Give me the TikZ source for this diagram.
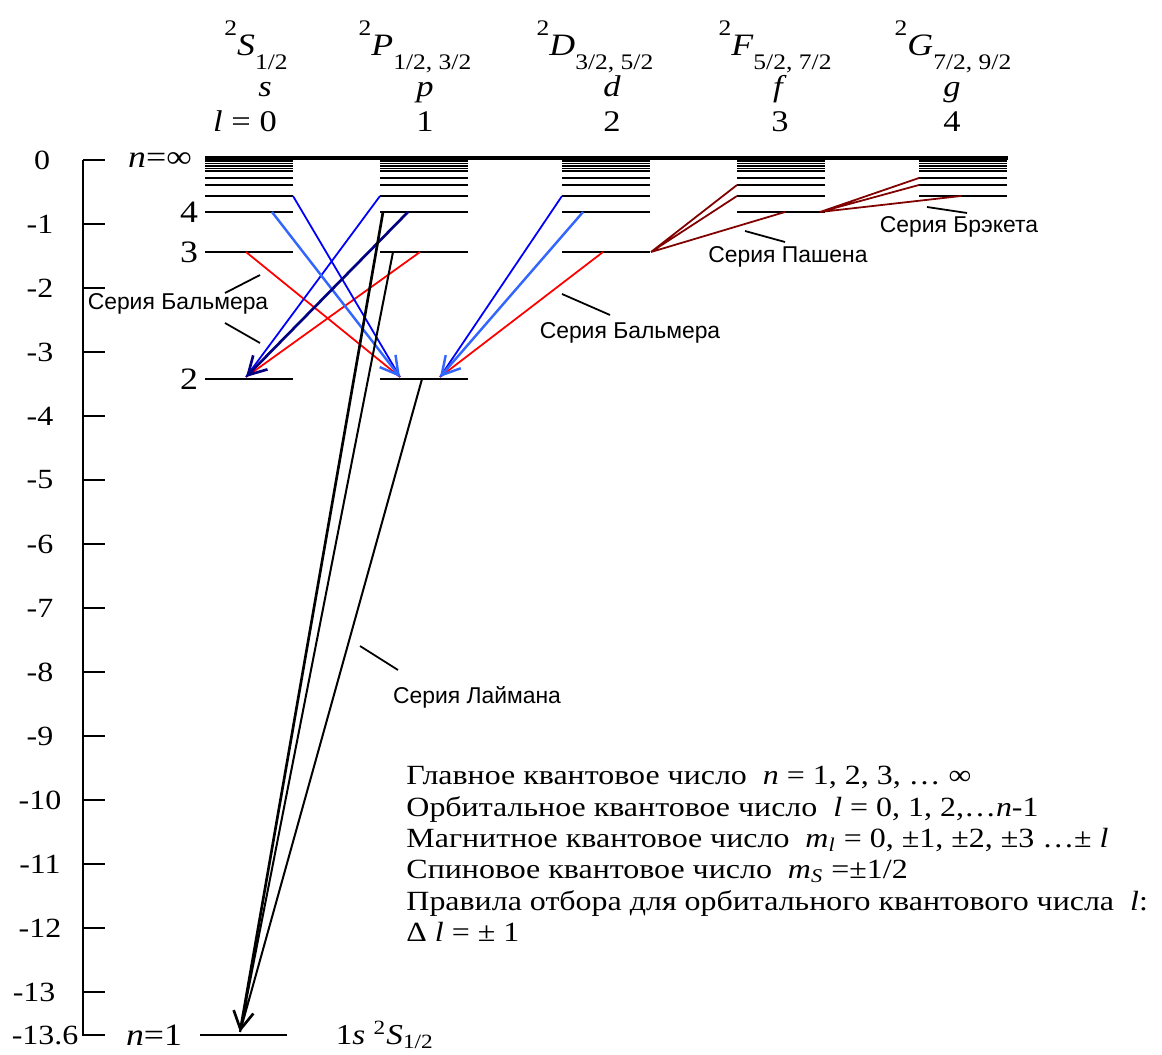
\documentclass[tikz,border=0pt]{standalone}
\usepackage{fontspec}
\setmainfont{Liberation Serif}[FakeStretch=1.15]
\newfontfamily\sanslbl{Liberation Sans}
\usetikzlibrary{arrows.meta}
\definecolor{lightblu}{RGB}{51,102,255}
\definecolor{navyblu}{RGB}{0,0,128}
\definecolor{darkred}{RGB}{128,0,0}
% term symbol: ^2 L_J with the indices set well off the line
\newcommand{\termsym}[2]{\raisebox{0.65em}{\fontsize{10}{10}\selectfont 2}\textit{#1}%
    \raisebox{-0.42em}{\fontsize{10}{10}\selectfont #2}}

\begin{document}
\begin{tikzpicture}[x=0.45pt, y=-0.45pt,
    level/.style={line width=0.8pt},
    axis/.style={line width=0.9pt},
    pointer/.style={line width=0.8pt},
    num/.style={font=\fontsize{12.5}{14}\selectfont},
    lev/.style={font=\fontsize{14}{16}\selectfont},
    term/.style={font=\fontsize{14}{17}\selectfont, anchor=base},
    head/.style={font=\fontsize{13.5}{16}\selectfont, anchor=base},
    lbl/.style={font=\sanslbl\fontsize{10.3}{12}\selectfont},
    barb/.style={-{Straight Barb[length=8pt, width=9pt]}},
    balred/.style={red, line width=0.8pt},
    balblue/.style={blue, line width=0.8pt},
    ballight/.style={lightblu, line width=1.1pt, barb},
    balnavy/.style={navyblu, line width=1.2pt, barb},
    lyman/.style={black, line width=0.9pt},
    infra/.style={darkred, line width=0.8pt}]

    \useasboundingbox (0,0) rectangle (1162,1055);

    \def\yI{1035}
    \def\yII{379}
    \def\yIII{252}
    \def\yIV{212}
    \def\yV{196}
    \def\yVI{185}
    \def\yVII{178}

    % --- Energy axis ---
    \draw[axis] (83,160) -- (83,\yI) -- ++(22,0);
    \foreach \e in {0,...,13}
        \draw[axis] (83,{160+64*\e}) -- ++(22,0);
    \node[num] (e0) at (42,160) {0};
    \foreach \e in {1,...,12}
        \node[num] (e\e) at (40,{160+64*\e}) {-\e};
    \node[num, anchor=west] (e13) at (5,992) {-13};
    \node[num, anchor=west] (e136) at (4,\yI) {-13.6};

    % --- Levels (n = 2 ... 12 in each column) ---
    \draw[line width=1.5pt] (205,158) -- (1008,158);
    \foreach \xl/\nmin in {205/2, 380/2, 562/3, 737/4, 919/5}{
        \foreach \n/\yy in {2/\yII, 3/\yIII, 4/\yIV, 5/\yV, 6/\yVI, 7/\yVII,
                            8/171, 9/168.5, 10/166, 11/163.5, 12/161}{
            \ifnum\n<\nmin\relax\else
                \draw[level] (\xl,\yy) -- ++(88,0);
            \fi
        }
    }
    % ground state
    \draw[level] (200,\yI) -- (287,\yI);

    % --- Level labels ---
    \node[lev] (ninf) at (160,160) {\textit{n}=∞};
    \node[lev] (lab4) at (189,\yIV) {4};
    \node[lev] (lab3) at (189,\yIII) {3};
    \node[lev] (lab2) at (189,\yII) {2};
    \node[lev] (lab1) at (154,\yI) {\textit{n}=1};
    \node[num, font=\fontsize{13}{15}\selectfont, anchor=west] (gs) at (328,\yI)
        {1\textit{s} \textsuperscript{2}\textit{S}\textsubscript{1/2}};

    % --- Column headings ---
    \node[term] (tS) at (256,56) {\termsym{S}{1/2}};
    \node[term] (tP) at (415,56) {\termsym{P}{1/2, 3/2}};
    \node[term] (tD) at (595,56) {\termsym{D}{3/2, 5/2}};
    \node[term] (tF) at (775,56) {\termsym{F}{5/2, 7/2}};
    \node[term] (tG) at (953,56) {\termsym{G}{7/2, 9/2}};

    \node[head] (os) at (265,97) {\textit{s}};
    \node[head] (op) at (425,97) {\textit{p}};
    \node[head] (od) at (612,97) {\textit{d}};
    \node[head] (of) at (780,97) {\textit{f}};
    \node[head] (og) at (952,97) {\textit{g}};

    \node[head] (l0) at (245,132) {\textit{l} = 0};
    \node[head] (l1) at (425,132) {1};
    \node[head] (l2) at (612,132) {2};
    \node[head] (l3) at (780,132) {3};
    \node[head] (l4) at (952,132) {4};

    % --- End points of the transitions ---
    \coordinate (s1) at (240,1032);
    \coordinate (s2) at (246,377);
    \coordinate (s3) at (246,\yIII);
    \coordinate (s4) at (272,\yIV);
    \coordinate (s5) at (293,\yV);
    \coordinate (p2a) at (400,377);
    \coordinate (p2b) at (440,377);
    \coordinate (p2c) at (422,\yII);
    \coordinate (p3a) at (393,\yIII);
    \coordinate (p3b) at (420,\yIII);
    \coordinate (p4a) at (383,\yIV);
    \coordinate (p4b) at (408,\yIV);
    \coordinate (p5) at (380,\yV);
    \coordinate (d3a) at (603,\yIII);
    \coordinate (d3b) at (651,\yIII);
    \coordinate (d4) at (583,\yIV);
    \coordinate (d5) at (562,\yV);
    \coordinate (f4a) at (785,\yIV);
    \coordinate (f4b) at (820,\yIV);
    \coordinate (f5) at (737,\yV);
    \coordinate (f6) at (737,\yVI);
    \coordinate (g5) at (961,\yV);
    \coordinate (g6) at (919,\yVI);
    \coordinate (g7) at (919,\yVII);

    % --- Balmer series ---
    \draw[balred] (s3) -- (p2a) (p3b) -- (s2) (d3a) -- (p2b);
    \draw[balblue] (p5) -- (s2) (s5) -- (p2a) (d5) -- (p2b);
    \draw[ballight] (s4) -- (p2a);
    \draw[ballight] (d4) -- (p2b);
    \draw[balnavy] (p4b) -- (s2);

    % --- Lyman series ---
    \draw[lyman] (p3a) -- (s1) (p2c) -- (s1);
    \draw[lyman, line width=1.2pt, barb] (p4a) -- (s1);

    % --- Paschen and Brackett series ---
    \draw[infra] (d3b) -- (f6) (d3b) -- (f5) (d3b) -- (f4a);
    \draw[infra] (f4b) -- (g7) (f4b) -- (g6) (f4b) -- (g5);

    % --- Series labels ---
    \node[lbl] (balL) at (178,304) {Серия Бальмера};
    \draw[pointer] (225,293) -- (260,275);
    \draw[pointer] (225,323) -- (260,343);
    \node[lbl] (balR) at (630,333) {Серия Бальмера};
    \draw[pointer] (562,294) -- (610,315);
    \node[lbl] (pash) at (788,257) {Серия Пашена};
    \draw[pointer] (745,231) -- (785,242);
    \node[lbl] (brack) at (959,227) {Серия Брэкета};
    \draw[pointer] (927,207) -- (967,213);
    \node[lbl] (lym) at (477,697) {Серия Лаймана};
    \draw[pointer] (360,646) -- (398,670);

    % --- Quantum numbers ---
    \node[font=\fontsize{12.5}{14.1}\selectfont, align=left, inner sep=0pt, anchor=north west]
        (rules) at (406,766) {Главное квантовое число\ \ \textit{n} = 1, 2, 3, … ∞\\
        Орбитальное квантовое число\ \ \textit{l} = 0, 1, 2,…\textit{n}-1\\
        Магнитное квантовое число\ \ \textit{m}\textsubscript{\textit{l}} = 0, ±1, ±2, ±3 …± \textit{l}\\
        Спиновое квантовое число\ \ \textit{m}\textsubscript{\textit{S}} =±1/2\\
        Правила отбора для орбитального квантового числа\ \ \textit{l}:\\
        Δ \textit{l} = ± 1};

\end{tikzpicture}
\end{document}
